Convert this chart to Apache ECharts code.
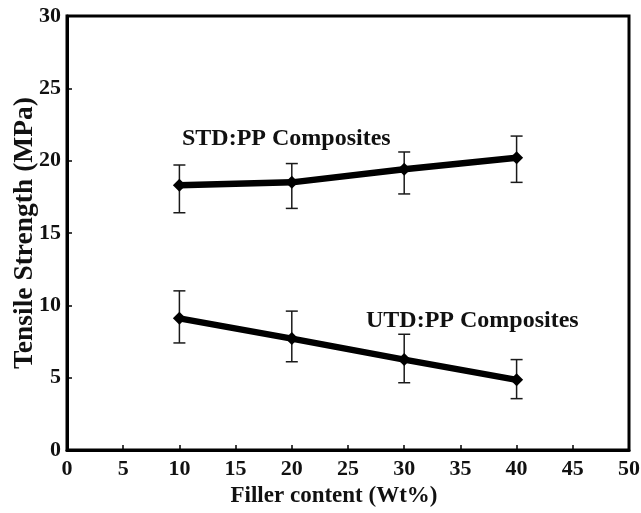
<!DOCTYPE html>
<html>
<head>
<meta charset="utf-8">
<script src="https://cdn.jsdelivr.net/npm/echarts@6/dist/echarts.min.js"></script>
<style>
  html, body { margin: 0; padding: 0; background: #fff; }
  #chart { width: 641px; height: 513px; }
</style>
</head>
<body>
<div id="chart"></div>
<script>
// filler content (wt%)
const filler = [10, 20, 30, 40]

// STD:PP composites, tensile strength (MPa)
const stdMean = [18.3, 18.5, 19.4, 20.2]
const stdLow = [16.4, 16.7, 17.7, 18.5]
const stdHigh = [19.7, 19.8, 20.6, 21.7]

// UTD:PP composites
const utdMean = [9.1, 7.7, 6.25, 4.85]
const utdLow = [7.4, 6.1, 4.65, 3.55]
const utdHigh = [11.0, 9.6, 8.0, 6.25]

const serif = '"Liberation Serif", "DejaVu Serif", serif'

const chart = echarts.init(document.getElementById('chart'), null, { renderer: 'canvas' })

function errorBars(low, high) {
  return filler.map((x, i) => [x, low[i], high[i]])
}

function renderErrorBar(params, api) {
  const x = api.value(0)
  const lo = api.coord([x, api.value(1)])
  const hi = api.coord([x, api.value(2)])
  const cap = 6
  const style = { stroke: '#1a1a1a', lineWidth: 1.5 }
  return {
    type: 'group',
    children: [
      { type: 'line', shape: { x1: lo[0], y1: lo[1], x2: hi[0], y2: hi[1] }, style },
      { type: 'line', shape: { x1: hi[0] - cap, y1: hi[1], x2: hi[0] + cap, y2: hi[1] }, style },
      { type: 'line', shape: { x1: lo[0] - cap, y1: lo[1], x2: lo[0] + cap, y2: lo[1] }, style },
    ],
  }
}

const lineSeries = (name, values) => ({
  name, type: 'line',
  data: filler.map((x, i) => [x, values[i]]),
  lineStyle: { width: 6.5, color: '#000' },
  itemStyle: { color: '#000' },
  symbol: 'diamond', symbolSize: 13,
  z: 3,
  animation: false,
})

chart.setOption({
  animation: false,
  backgroundColor: '#fff',
  grid: {
    left: 67, right: 12, top: 16, bottom: 63,
    outerBoundsMode: 'none',
    show: true, borderColor: '#000', borderWidth: 3,
  },
  xAxis: {
    type: 'value', min: 0, max: 50, interval: 5,
    name: 'Filler content (Wt%)', nameLocation: 'middle', nameGap: 35, nameMoveOverlap: false,
    nameTextStyle: { fontFamily: serif, fontWeight: 'bold', fontSize: 23, color: '#111', padding: [0, 28, 0, 0] },
    axisLine: { show: true, lineStyle: { color: '#000', width: 3 } },
    axisTick: { show: true, inside: true, length: 5, lineStyle: { color: '#000', width: 1.5 } },
    axisLabel: { fontFamily: serif, fontWeight: 'bold', fontSize: 22, color: '#111', margin: 8 },
    splitLine: { show: false },
  },
  yAxis: {
    type: 'value', min: 0, max: 30, interval: 5,
    name: 'Tensile Strength (MPa)', nameLocation: 'middle', nameGap: 28, nameRotate: 90, nameMoveOverlap: false,
    nameTextStyle: { fontFamily: serif, fontWeight: 'bold', fontSize: 27.5, color: '#111' },
    axisLine: { show: true, lineStyle: { color: '#000', width: 3 } },
    axisTick: { show: true, inside: true, length: 5, lineStyle: { color: '#000', width: 1.5 } },
    axisLabel: { fontFamily: serif, fontWeight: 'bold', fontSize: 22, color: '#111', margin: 6 },
    splitLine: { show: false },
  },
  graphic: [
    { type: 'text', left: 182, top: 127, style: { text: 'STD:PP Composites', fontFamily: serif, fontWeight: 'bold', fontSize: 24, fill: '#111' } },
    { type: 'text', left: 366, top: 309, style: { text: 'UTD:PP Composites', fontFamily: serif, fontWeight: 'bold', fontSize: 24, fill: '#111' } },
  ],
  series: [
    { type: 'custom', renderItem: renderErrorBar, data: errorBars(stdLow, stdHigh), z: 2, encode: { x: 0, y: [1, 2] } },
    { type: 'custom', renderItem: renderErrorBar, data: errorBars(utdLow, utdHigh), z: 2, encode: { x: 0, y: [1, 2] } },
    lineSeries('STD:PP Composites', stdMean),
    lineSeries('UTD:PP Composites', utdMean),
  ],
})
</script>
</body>
</html>
